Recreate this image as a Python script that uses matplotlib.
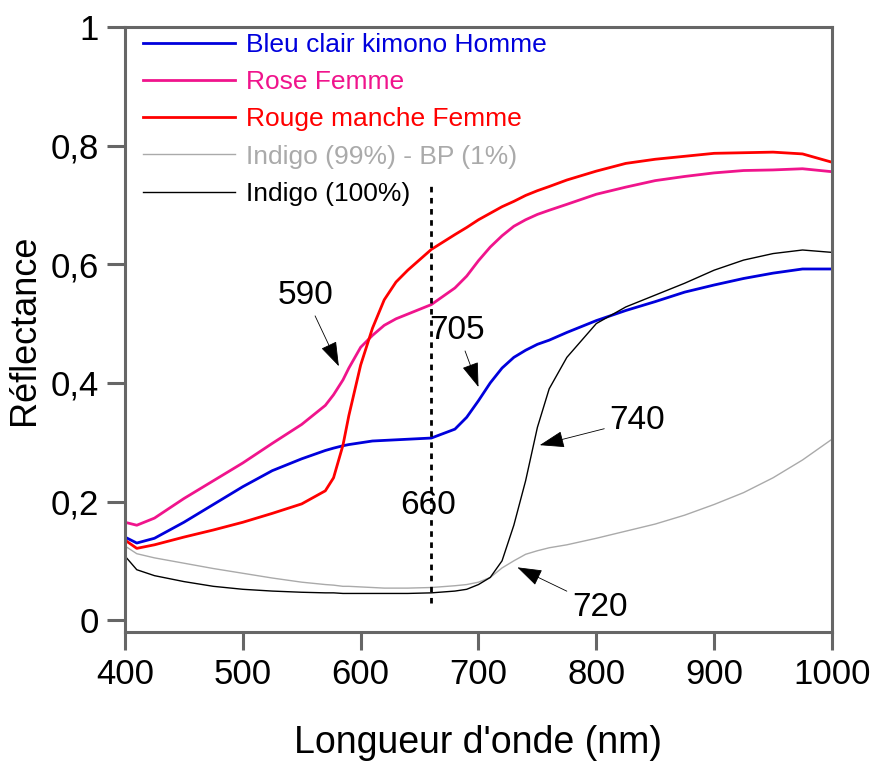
import numpy as np
import matplotlib.pyplot as plt
from matplotlib.ticker import FuncFormatter

plt.rcParams['font.family'] = ['Liberation Sans', 'DejaVu Sans']

# longueurs d'onde (nm)
wl = [400, 410, 425, 450, 475, 500, 525, 550, 570, 577, 585, 590, 600, 610, 620,
      630, 640, 660, 680, 690, 700, 710, 720, 730, 740, 750, 760, 775, 800, 825,
      850, 875, 900, 925, 950, 975, 1000]

bleu = [0.140, 0.130, 0.138, 0.165, 0.195, 0.225, 0.252, 0.272, 0.286, 0.290,
        0.294, 0.296, 0.299, 0.302, 0.303, 0.304, 0.305, 0.307, 0.322, 0.342,
        0.370, 0.400, 0.425, 0.443, 0.455, 0.465, 0.472, 0.485, 0.505, 0.522,
        0.537, 0.553, 0.565, 0.576, 0.585, 0.592, 0.592]
rose = [0.165, 0.160, 0.172, 0.205, 0.235, 0.265, 0.298, 0.330, 0.362, 0.380,
        0.405, 0.425, 0.460, 0.480, 0.497, 0.508, 0.516, 0.532, 0.560, 0.580,
        0.606, 0.629, 0.648, 0.664, 0.675, 0.684, 0.691, 0.701, 0.718, 0.730,
        0.741, 0.748, 0.754, 0.758, 0.759, 0.761, 0.756]
rouge = [0.135, 0.121, 0.127, 0.140, 0.152, 0.165, 0.180, 0.196, 0.218, 0.240,
         0.295, 0.345, 0.430, 0.492, 0.540, 0.570, 0.590, 0.625, 0.650, 0.662,
         0.675, 0.686, 0.697, 0.706, 0.716, 0.724, 0.731, 0.742, 0.757, 0.770,
         0.777, 0.782, 0.787, 0.788, 0.789, 0.786, 0.772]
indigo_bp = [0.125, 0.112, 0.105, 0.096, 0.087, 0.079, 0.071, 0.064, 0.060, 0.059,
             0.057, 0.057, 0.056, 0.055, 0.054, 0.054, 0.054, 0.055, 0.058, 0.060,
             0.064, 0.072, 0.088, 0.100, 0.111, 0.117, 0.122, 0.127, 0.138, 0.150,
             0.162, 0.177, 0.195, 0.215, 0.240, 0.270, 0.305]
indigo = [0.108, 0.085, 0.075, 0.065, 0.057, 0.052, 0.049, 0.047, 0.046, 0.046,
          0.045, 0.045, 0.045, 0.045, 0.045, 0.045, 0.045, 0.046, 0.049, 0.052,
          0.060, 0.072, 0.100, 0.160, 0.235, 0.325, 0.390, 0.443, 0.500, 0.528,
          0.548, 0.568, 0.590, 0.607, 0.618, 0.624, 0.620]

series = [
    ("Bleu clair kimono Homme", bleu, "#0000dc", 2.0),
    ("Rose Femme", rose, "#f0148c", 2.0),
    ("Rouge manche Femme", rouge, "#ff0000", 2.0),
    ("Indigo (99%) - BP (1%)", indigo_bp, "#aaaaaa", 1.0),
    ("Indigo (100%)", indigo, "#000000", 1.0),
]

fig = plt.figure(figsize=(8.79, 7.62), dpi=100)
ax = fig.add_axes([0.1422, 0.1706, 0.8043, 0.7940])

for nom, y, c, lw in series:
    ax.plot(wl, y, color=c, lw=lw, label=nom)

# ligne verticale à 660 nm
ax.plot([660, 660], [0.029, 0.737], color='black', lw=2, ls=(0, (2, 2)))

ax.set_xlim(400, 1000)
ax.set_ylim(-0.02, 1.0)
ax.set_xticks([400, 500, 600, 700, 800, 900, 1000])
ax.set_yticks([0, 0.2, 0.4, 0.6, 0.8, 1])
ax.yaxis.set_major_formatter(FuncFormatter(lambda v, p: ('%g' % round(v, 1)).replace('.', ',')))

for s in ax.spines.values():
    s.set_color('#666666')
    s.set_linewidth(2.2)
ax.tick_params(direction='out', length=13, width=2.2, color='#666666',
               labelsize=25, pad=6)
ax.set_xlabel("Longueur d'onde (nm)", fontsize=27, labelpad=24)
ax.set_ylabel("Réflectance", fontsize=26, labelpad=6)

leg = ax.legend(loc='upper left', bbox_to_anchor=(0.0255, 0.990), frameon=False,
                fontsize=19, handlelength=3.5, handletextpad=0.42,
                labelspacing=0.5, borderpad=0, borderaxespad=0,
                labelcolor='linecolor')

# annotations
fl = dict(arrowstyle='-|>,head_length=0.65,head_width=0.22', color='black',
          lw=0.6, shrinkA=2, shrinkB=0)
ax.annotate('590', xy=(581.5, 0.428), xytext=(553, 0.548), fontsize=24,
            ha='center', va='center', arrowprops=fl)
ax.annotate('705', xy=(700, 0.393), xytext=(682, 0.489), fontsize=24,
            ha='center', va='center', arrowprops=fl)
ax.annotate('740', xy=(752, 0.295), xytext=(835, 0.337), fontsize=24,
            ha='center', va='center', arrowprops=fl)
ax.annotate('720', xy=(733, 0.089), xytext=(803, 0.022), fontsize=24,
            ha='center', va='center', arrowprops=fl)
ax.text(657, 0.194, '660', fontsize=24, ha='center', va='center')

fig.savefig('out.png', dpi=100)
